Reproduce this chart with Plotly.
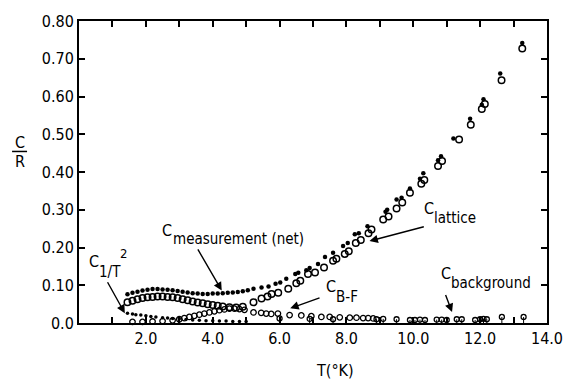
import plotly.graph_objects as go

# ---------------- data ----------------
meas_T = [1.45, 1.6, 1.75, 1.9, 2.05, 2.2, 2.35, 2.5, 2.65, 2.8, 2.95, 3.1, 3.25, 3.4,
          3.55, 3.7, 3.85, 4.0, 4.15, 4.3, 4.45, 4.6, 4.75, 4.9, 5.05, 5.22, 5.46, 5.67, 5.88, 6.02,
          6.2, 6.47, 6.56, 6.8, 6.9, 7.15, 7.36, 7.6, 7.9, 8.04, 8.25, 8.37, 8.63, 9.17,
          9.22, 9.5, 9.65, 9.9, 10.2, 10.3, 10.74, 10.83, 11.2, 11.7, 12.05, 12.1, 12.6, 13.26]
meas_C = [0.076, 0.080, 0.083, 0.086, 0.088, 0.090, 0.090, 0.089, 0.088, 0.087, 0.085, 0.083,
          0.081, 0.079, 0.078, 0.077, 0.077, 0.078, 0.078, 0.079, 0.080, 0.081, 0.082, 0.084, 0.087,
          0.091, 0.094, 0.097, 0.104, 0.107, 0.117, 0.130, 0.133, 0.140, 0.146, 0.156, 0.175, 0.186,
          0.204, 0.212, 0.235, 0.238, 0.256, 0.295, 0.300, 0.327, 0.332, 0.356, 0.382, 0.397,
          0.431, 0.442, 0.489, 0.541, 0.578, 0.593, 0.661, 0.742]

lat_T = [1.45, 1.6, 1.75, 1.9, 2.05, 2.2, 2.35, 2.5, 2.65, 2.8, 2.95, 3.1, 3.25, 3.4, 3.55,
         3.7, 3.85, 4.0, 4.15, 4.3, 4.5, 4.7, 4.9, 5.22, 5.46, 5.64, 5.76, 5.96, 6.26, 6.5,
         6.62, 6.85, 7.06, 7.33, 7.6, 7.7, 7.95, 8.07, 8.28, 8.43, 8.66, 8.75, 9.1, 9.26,
         9.5, 9.67, 9.9, 10.24, 10.33, 10.74, 10.86, 11.37, 11.72, 12.05, 12.14, 12.64, 13.26]
lat_C = [0.055, 0.059, 0.063, 0.066, 0.068, 0.069, 0.070, 0.070, 0.069, 0.068, 0.066, 0.063,
         0.060, 0.057, 0.054, 0.052, 0.050, 0.048, 0.046, 0.044, 0.042, 0.041, 0.043, 0.055,
         0.065, 0.070, 0.077, 0.080, 0.091, 0.105, 0.112, 0.130, 0.134, 0.147, 0.165, 0.170,
         0.183, 0.190, 0.212, 0.220, 0.238, 0.248, 0.274, 0.282, 0.303, 0.319, 0.345, 0.369,
         0.379, 0.416, 0.429, 0.486, 0.525, 0.567, 0.580, 0.643, 0.727]

bf_T = [1.6, 1.9, 2.2, 2.5, 2.8, 3.0, 3.15, 3.3, 3.45, 3.6, 3.75, 3.9, 4.05, 4.2, 4.35,
        4.5, 4.65, 4.8, 4.95, 5.22, 5.45, 5.6, 5.75, 5.95, 6.3, 6.65, 6.95, 7.25, 7.5,
        7.8, 8.1, 8.3, 8.5, 8.65, 8.8]
bf_C = [0.003, 0.003, 0.004, 0.005, 0.007, 0.010, 0.013, 0.016, 0.019, 0.022, 0.025, 0.028,
        0.031, 0.034, 0.036, 0.038, 0.038, 0.037, 0.035, 0.028, 0.027, 0.025, 0.024, 0.025,
        0.021, 0.020, 0.018, 0.016, 0.016, 0.015, 0.014, 0.014, 0.013, 0.013, 0.012]

bg_T = [6.0, 6.9, 7.6, 8.9, 9.1, 9.5, 9.9, 10.05, 10.2, 10.35, 10.7, 10.85, 11.0, 11.3,
        11.45, 11.85, 12.0, 12.1, 12.2, 12.65, 13.3]
bg_C = [0.012, 0.011, 0.010, 0.010, 0.011, 0.010, 0.008, 0.008, 0.009, 0.008, 0.009, 0.009,
        0.008, 0.010, 0.010, 0.008, 0.010, 0.011, 0.010, 0.016, 0.016]

inv_T = [1.45, 1.6, 1.7, 1.85, 2.0, 2.15, 2.3, 2.5, 2.65, 2.8, 3.0, 3.2, 3.4, 3.6, 3.8,
         4.0, 4.2, 4.4, 4.6, 4.8, 5.0]
inv_C = [0.026, 0.024, 0.022, 0.021, 0.019, 0.017, 0.016, 0.014, 0.013, 0.012, 0.011, 0.009,
         0.008, 0.007, 0.006, 0.006, 0.005, 0.005, 0.004, 0.004, 0.004]

x_ticks = [2, 4, 6, 8, 10, 12, 14]
x_labels = ["2.0", "4.0", "6.0", "8.0", "10.0", "12.0", "14.0"]
y_ticks = [0, 0.1, 0.2, 0.3, 0.4, 0.5, 0.6, 0.7, 0.8]
y_labels = ["0.0", "0.10", "0.20", "0.30", "0.40", "0.50", "0.60", "0.70", "0.80"]

FONT = "Liberation Sans Narrow, DejaVu Sans Condensed, Arial Narrow, Roboto, sans-serif"

fig = go.Figure()
fig.add_trace(go.Scatter(x=bg_T, y=bg_C, mode="markers", cliponaxis=False,
                         error_y=dict(type="data", symmetric=False, array=[0] * len(bg_C),
                                      arrayminus=bg_C, width=0, thickness=1, color="black"),
                         marker=dict(symbol="circle-open", size=5, color="black", line=dict(width=1.3))))
fig.add_trace(go.Scatter(x=bf_T, y=bf_C, mode="markers", cliponaxis=False,
                         marker=dict(symbol="circle-open", size=5.5, color="black", line=dict(width=1.3))))
fig.add_trace(go.Scatter(x=inv_T, y=inv_C, mode="markers", cliponaxis=False,
                         marker=dict(symbol="circle", size=3.5, color="black")))
fig.add_trace(go.Scatter(x=lat_T, y=lat_C, mode="markers", cliponaxis=False,
                         marker=dict(symbol="circle-open", size=6.5, color="black", line=dict(width=1.5))))
fig.add_trace(go.Scatter(x=meas_T, y=meas_C, mode="markers", cliponaxis=False,
                         marker=dict(symbol="circle", size=4.5, color="black")))

def label(xc, yc, xs, ys, sub, sup=None, xp=None, yp=None):
    fig.add_annotation(x=xc, y=yc, text="C", showarrow=False, xanchor="left", yanchor="middle",
                       font=dict(family=FONT, size=16, color="black"))
    fig.add_annotation(x=xs, y=ys, text=sub, showarrow=False, xanchor="left", yanchor="middle",
                       font=dict(family=FONT, size=15, color="black"))
    if sup:
        fig.add_annotation(x=xp, y=yp, text=sup, showarrow=False, xanchor="left", yanchor="middle",
                           font=dict(family=FONT, size=13, color="black"))

def arrow(x0, y0, x1, y1):
    fig.add_annotation(x=x1, y=y1, ax=x0, ay=y0, axref="x", ayref="y", xref="x", yref="y",
                       text="", showarrow=True, arrowhead=2, arrowsize=1.2, arrowwidth=1.4,
                       arrowcolor="black")

label(2.42, 0.246, 2.74, 0.222, "measurement (net)")
arrow(3.53, 0.199, 4.27, 0.086)
label(0.25, 0.162, 0.55, 0.136, "1/T", "2", 1.16, 0.183)
arrow(0.83, 0.112, 1.37, 0.026)
label(7.33, 0.097, 7.62, 0.068, "B-F")
arrow(7.24, 0.068, 6.32, 0.039)
label(10.25, 0.303, 10.56, 0.277, "lattice")
arrow(10.36, 0.256, 8.69, 0.217)
label(10.78, 0.131, 11.08, 0.107, "background")
arrow(10.95, 0.078, 11.16, 0.029)

# y-axis title as a fraction C / R
fig.add_annotation(xref="paper", yref="paper", x=-0.127, y=0.598, text="C", showarrow=False,
                   xanchor="center", yanchor="middle", font=dict(family=FONT, size=16, color="black"))
fig.add_annotation(xref="paper", yref="paper", x=-0.127, y=0.535, text="R", showarrow=False,
                   xanchor="center", yanchor="middle", font=dict(family=FONT, size=16, color="black"))
fig.add_shape(type="line", xref="paper", yref="paper", x0=-0.143, x1=-0.111, y0=0.568, y1=0.568,
              line=dict(color="black", width=1.5))
fig.add_annotation(xref="paper", yref="paper", x=0.547, y=-0.157, text="T(°K)", showarrow=False,
                   xanchor="center", yanchor="middle", font=dict(family=FONT, size=16, color="black"))

axis_common = dict(showline=True, linewidth=2, linecolor="black", mirror="allticks",
                   ticks="inside", ticklen=6, tickwidth=2, tickcolor="black",
                   showgrid=False, zeroline=False,
                   tickfont=dict(family=FONT, size=16, color="black"))
fig.update_xaxes(range=[0, 14], tickmode="array", tickvals=x_ticks, ticktext=x_labels,
                 minor=dict(tick0=0, dtick=1, ticks="inside", ticklen=6, tickwidth=2, tickcolor="black"),
                 **axis_common)
fig.update_yaxes(range=[0, 0.8], tickmode="array", tickvals=y_ticks, ticktext=y_labels,
                 **axis_common)

fig.update_layout(width=575, height=379, margin=dict(l=79, r=24, t=17, b=56),
                  plot_bgcolor="white", paper_bgcolor="white", showlegend=False)

fig.write_html("out.html")
